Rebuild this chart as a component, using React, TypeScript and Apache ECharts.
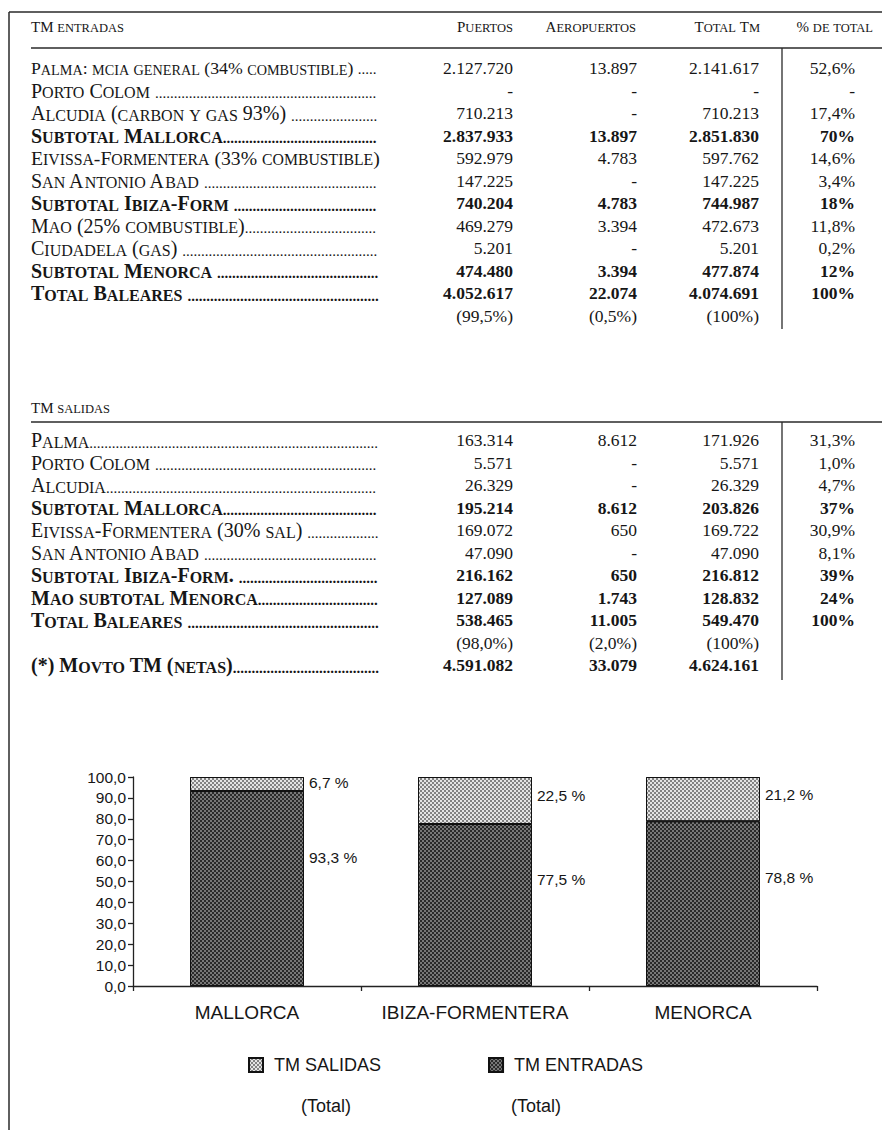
import React, { useEffect, useRef } from 'react';
import * as echarts from 'echarts';

const SERIF = '"Liberation Serif", "Times New Roman", serif';
const SANS = '"Liberation Sans", Arial, sans-serif';
const INK = '#161616';

// ---------- table data ----------
const columnHeaders = ['Puertos', 'Aeropuertos', 'Total Tm', '% de total'];
const entradasTitle = 'TM entradas';
const salidasTitle = 'TM salidas';

const entradasLabels = [
  'Palma: mcia general (34% combustible) ',
  'Porto Colom ',
  'Alcudia (carbon y gas 93%) ',
  'Subtotal Mallorca',
  'Eivissa-Formentera (33% combustible)',
  'San Antonio Abad ',
  'Subtotal Ibiza-Form ',
  'Mao (25% combustible)',
  'Ciudadela (gas) ',
  'Subtotal Menorca ',
  'Total Baleares ',
  '',
];
const entradasPuertos = ['2.127.720', '-', '710.213', '2.837.933', '592.979', '147.225', '740.204', '469.279', '5.201', '474.480', '4.052.617', '(99,5%)'];
const entradasAeropuertos = ['13.897', '-', '-', '13.897', '4.783', '-', '4.783', '3.394', '-', '3.394', '22.074', '(0,5%)'];
const entradasTotal = ['2.141.617', '-', '710.213', '2.851.830', '597.762', '147.225', '744.987', '472.673', '5.201', '477.874', '4.074.691', '(100%)'];
const entradasPctTotal = ['52,6%', '-', '17,4%', '70%', '14,6%', '3,4%', '18%', '11,8%', '0,2%', '12%', '100%', ''];
const entradasBoldRows = [3, 6, 9, 10];

const salidasLabels = [
  'Palma',
  'Porto Colom ',
  'Alcudia',
  'Subtotal Mallorca',
  'Eivissa-Formentera (30% sal) ',
  'San Antonio Abad ',
  'Subtotal Ibiza-Form. ',
  'Mao subtotal Menorca',
  'Total Baleares ',
  '',
  '(*) Movto TM (netas)',
];
const salidasPuertos = ['163.314', '5.571', '26.329', '195.214', '169.072', '47.090', '216.162', '127.089', '538.465', '(98,0%)', '4.591.082'];
const salidasAeropuertos = ['8.612', '-', '-', '8.612', '650', '-', '650', '1.743', '11.005', '(2,0%)', '33.079'];
const salidasTotal = ['171.926', '5.571', '26.329', '203.826', '169.722', '47.090', '216.812', '128.832', '549.470', '(100%)', '4.624.161'];
const salidasPctTotal = ['31,3%', '1,0%', '4,7%', '37%', '30,9%', '8,1%', '39%', '24%', '100%', '', ''];
const salidasBoldRows = [3, 6, 7, 8, 10];

// ---------- chart data ----------
const islands = ['MALLORCA', 'IBIZA-FORMENTERA', 'MENORCA'];
const entradasShare = [93.3, 77.5, 78.8];
const salidasShare = [6.7, 22.5, 21.2];
const legendNames = ['TM SALIDAS', 'TM ENTRADAS'];
const legendNote = '(Total)';

// ---------- layout ----------
const LABEL_X = 31;
const DOTS_END = 380;
const COL_R = [513, 637, 759, 855];
const HEAD_R = [513, 636, 760, 873];
const VSEP_X = 782;
const ROW_STEP = 22.5;

const BIG = 20;
const SMALL = 16;
const HBIG = 15;
const HSMALL = 12.5;
const lhSmall = (s: number, b: number) => 0.675 * s + 0.325 * b;

function makeRich(scale: number): Record<string, any> {
  const big = BIG * scale;
  const small = SMALL * scale;
  return {
    b: { fontFamily: SERIF, fontSize: big, fontWeight: 'normal', lineHeight: big, verticalAlign: 'bottom', fill: INK },
    s: { fontFamily: SERIF, fontSize: small, fontWeight: 'normal', lineHeight: lhSmall(small, big), verticalAlign: 'bottom', fill: INK },
    B: { fontFamily: SERIF, fontSize: big, fontWeight: 'bold', lineHeight: big, verticalAlign: 'bottom', fill: INK },
    S: { fontFamily: SERIF, fontSize: small, fontWeight: 'bold', lineHeight: lhSmall(small, big), verticalAlign: 'bottom', fill: INK },
    d: { fontFamily: SERIF, fontSize: 15, fontWeight: 'normal', lineHeight: big, verticalAlign: 'bottom', fill: INK },
    D: { fontFamily: SERIF, fontSize: 15, fontWeight: 'bold', lineHeight: big, verticalAlign: 'bottom', fill: INK },
    h: { fontFamily: SERIF, fontSize: HBIG, fontWeight: 'normal', lineHeight: HBIG, verticalAlign: 'bottom', fill: INK },
    k: { fontFamily: SERIF, fontSize: HSMALL, fontWeight: 'normal', lineHeight: lhSmall(HSMALL, HBIG), verticalAlign: 'bottom', fill: INK },
  };
}
const RICH = makeRich(1);

let ctx: CanvasRenderingContext2D | null = null;
function measure(text: string, key: string) {
  if (!ctx) ctx = document.createElement('canvas').getContext('2d');
  const st = RICH[key];
  ctx!.font = `${st.fontWeight} ${st.fontSize}px ${st.fontFamily}`;
  return ctx!.measureText(text).width;
}

function capsRich(str: string, bigKey: string, smallKey: string) {
  const segs: { small: boolean; text: string }[] = [];
  for (const ch of str) {
    const isSmall = ch !== ch.toUpperCase();
    const t = isSmall ? ch.toUpperCase() : ch;
    const last = segs[segs.length - 1];
    if (last && last.small === isSmall) last.text += t;
    else segs.push({ small: isSmall, text: t });
  }
  let width = 0;
  let text = '';
  for (const s of segs) {
    const key = s.small ? smallKey : bigKey;
    width += measure(s.text, key);
    text += `{${key}|${s.text}}`;
  }
  return { text, width };
}

function txt(x: number, y: number, text: string, align: string, font: string) {
  return {
    type: 'text',
    x,
    y,
    style: { text, align, verticalAlign: 'middle', font, fill: INK },
  };
}

function hline(x1: number, x2: number, y: number, w = 1.3) {
  return { type: 'line', shape: { x1, y1: y, x2, y2: y }, style: { stroke: '#2a2a2a', lineWidth: w } };
}
function vline(x: number, y1: number, y2: number, w = 1.3) {
  return { type: 'line', shape: { x1: x, y1, x2: x, y2 }, style: { stroke: '#2a2a2a', lineWidth: w } };
}

function buildSection(
  els: any[],
  title: string,
  titleY: number,
  lineY: number,
  firstRowY: number,
  labels: string[],
  cols: string[][],
  boldRows: number[],
  vsepEnd: number,
  withHeaders: boolean
) {
  const t = capsRich(title, 'h', 'k');
  els.push({ type: 'text', x: LABEL_X, y: titleY, style: { text: t.text, rich: RICH, align: 'left', verticalAlign: 'middle' } });
  if (withHeaders) {
    columnHeaders.forEach((h, i) => {
      const r = capsRich(h, 'h', 'k');
      els.push({ type: 'text', x: HEAD_R[i], y: titleY, style: { text: r.text, rich: RICH, align: 'right', verticalAlign: 'middle' } });
    });
  }
  els.push(hline(LABEL_X, 882, lineY));
  els.push(vline(VSEP_X, lineY, vsepEnd));

  labels.forEach((label, i) => {
    const y = firstRowY + i * ROW_STEP;
    const bold = boldRows.indexOf(i) >= 0;
    if (label) {
      const r = capsRich(label, bold ? 'B' : 'b', bold ? 'S' : 's');
      const full = DOTS_END - LABEL_X;
      const avail = full - (label.endsWith(' ') ? 22 : 0);
      const scale = r.width > avail ? avail / r.width : 1;
      const rich = scale === 1 ? RICH : makeRich(scale);
      const dk = bold ? 'D' : 'd';
      const n = Math.floor((full - r.width * scale - 1) / measure('.', dk));
      const text = r.text + (n > 0 ? `{${dk}|${'.'.repeat(n)}}` : '');
      els.push({ type: 'text', x: LABEL_X, y, style: { text, rich, align: 'left', verticalAlign: 'middle' } });
    }
    const font = `${bold ? 'bold' : 'normal'} 17.5px ${SERIF}`;
    cols.forEach((col, c) => {
      if (col[i]) els.push(txt(COL_R[c], y, col[i], 'right', font));
    });
  });
}

function buildGraphic() {
  const els: any[] = [];
  els.push(vline(9, 12, 1130, 1.5));
  els.push(hline(9, 882, 12, 1.5));
  buildSection(els, entradasTitle, 27, 48, 68, entradasLabels,
    [entradasPuertos, entradasAeropuertos, entradasTotal, entradasPctTotal], entradasBoldRows, 329, true);
  buildSection(els, salidasTitle, 408, 422, 440, salidasLabels,
    [salidasPuertos, salidasAeropuertos, salidasTotal, salidasPctTotal], salidasBoldRows, 680, false);
  els.push(txt(326, 1106, legendNote, 'center', `normal 18px ${SANS}`));
  els.push(txt(536, 1106, legendNote, 'center', `normal 18px ${SANS}`));
  return els;
}

const fmtPct = (v: number) => v.toFixed(1).replace('.', ',') + ' %';

export default function App() {
  const ref = useRef<HTMLDivElement>(null);
  useEffect(() => {
    if (!ref.current) return;
    const chart = echarts.init(ref.current, undefined, { renderer: 'svg' });
    const labelBase = {
      show: true,
      align: 'left',
      verticalAlign: 'middle',
      offset: [5, 0],
      fontFamily: SANS,
      fontSize: 15.5,
      color: INK,
      formatter: (p: any) => fmtPct(p.value),
    };
    const axisLineStyle = { color: '#222', width: 1.3 };
    chart.setOption({
      animation: false,
      backgroundColor: '#ffffff',
      aria: { enabled: true, decal: { show: true } },
      graphic: { elements: buildGraphic() },
      grid: { left: 133, right: 74, top: 777, bottom: 144 },
      legend: {
        data: legendNames,
        left: 248,
        top: 1056,
        padding: 0,
        icon: 'rect',
        itemWidth: 14,
        itemHeight: 14,
        itemGap: 107,
        itemStyle: { borderColor: '#111', borderWidth: 2 },
        textStyle: { fontFamily: SANS, fontSize: 18, color: INK, padding: [0, 0, 0, 6] },
        selectedMode: false,
      },
      xAxis: {
        type: 'category',
        data: islands,
        axisLine: { lineStyle: axisLineStyle },
        axisTick: { show: true, length: 5, lineStyle: axisLineStyle },
        axisLabel: { interval: 0, hideOverlap: false, fontFamily: SANS, fontSize: 19, color: INK, margin: 17 },
      },
      yAxis: {
        type: 'value',
        min: 0,
        max: 100,
        interval: 10,
        axisLine: { show: true, lineStyle: axisLineStyle },
        axisTick: { show: true, length: 5, lineStyle: axisLineStyle },
        splitLine: { show: false },
        axisLabel: {
          fontFamily: SANS,
          fontSize: 15.5,
          color: INK,
          margin: 7,
          formatter: (v: number) => v.toFixed(1).replace('.', ','),
        },
      },
      series: [
        {
          name: 'TM ENTRADAS',
          type: 'bar',
          stack: 'total',
          barWidth: '50%',
          data: entradasShare,
          itemStyle: {
            color: '#2a2a2a',
            borderColor: '#111',
            borderWidth: 1,
            decal: {
              symbol: 'rect',
              symbolSize: 1,
              color: 'rgba(140,140,140,0.8)',
              dashArrayX: [[2, 2], [0, 2, 2, 0]],
              dashArrayY: [2, 0],
              rotation: 0,
            },
          },
          label: { ...labelBase, position: ['100%', '34%'] },
        },
        {
          name: 'TM SALIDAS',
          type: 'bar',
          stack: 'total',
          barWidth: '50%',
          data: salidasShare,
          itemStyle: {
            color: '#e4e4e4',
            borderColor: '#111',
            borderWidth: 1,
            decal: {
              symbol: 'rect',
              symbolSize: 1,
              color: 'rgba(120,120,120,0.9)',
              dashArrayX: [[2, 2], [0, 2, 2, 0]],
              dashArrayY: [2, 0],
              rotation: 0,
            },
          },
          label: { ...labelBase, position: ['100%', '40%'] },
        },
      ],
    });
    return () => chart.dispose();
  }, []);
  return (
    <div
      ref={ref}
      style={{ position: 'fixed', left: 0, top: 0, width: 891, height: 1130, background: '#fff' }}
    />
  );
}
